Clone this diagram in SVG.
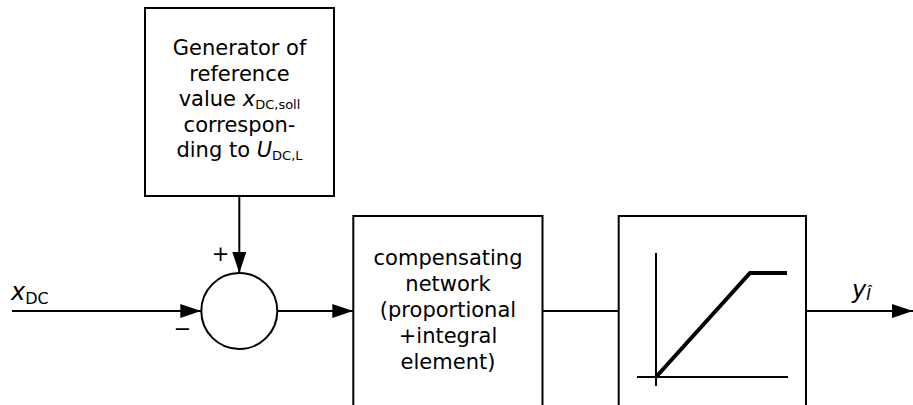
<svg xmlns="http://www.w3.org/2000/svg" width="913" height="405" viewBox="0 0 913 405">
  <style>
    .box { fill: #fff; stroke: #000; stroke-width: 2; }
    .wire { fill: none; stroke: #000; stroke-width: 2; }
    .ramp { fill: none; stroke: #000; stroke-width: 4; stroke-linejoin: miter; }
    text { font-family: "DejaVu Sans", Verdana, sans-serif; font-size: 21px; fill: #000; }
    .lbl { text-anchor: middle; }
    .it { font-style: italic; }
    .sub { font-size: 13px; }
    .sig { font-size: 24px; }
    .sigsub { font-size: 16px; }
  </style>
  <defs>
    <marker id="arrow" markerWidth="21" markerHeight="14" refX="21" refY="7" orient="auto" markerUnits="userSpaceOnUse">
      <path d="M0,0 L21,7 L0,14 Z" fill="#000"/>
    </marker>
  </defs>

  <!-- reference value generator -->
  <g id="generator">
    <rect class="box" x="145" y="8" width="189" height="188"/>
    <text class="lbl" x="239.5" y="55">Generator of</text>
    <text class="lbl" x="239.5" y="80.5">reference</text>
    <text class="lbl" x="239.5" y="106">value <tspan class="it">x</tspan><tspan class="sub" dy="3">DC,soll</tspan></text>
    <text class="lbl" x="239.5" y="131.5">correspon-</text>
    <text class="lbl" x="239.5" y="157">ding to <tspan class="it">U</tspan><tspan class="sub" dy="3">DC,L</tspan></text>
  </g>

  <!-- summing junction -->
  <g id="sum">
    <circle class="box" cx="239.3" cy="311" r="38"/>
    <text x="220.5" y="261" text-anchor="middle" font-size="23">+</text>
    <text x="182.5" y="336" text-anchor="middle" font-size="23">−</text>
  </g>

  <!-- PI controller -->
  <g id="controller">
    <rect class="box" x="353.3" y="216" width="189.2" height="190"/>
    <text class="lbl" x="448" y="265">compensating</text>
    <text class="lbl" x="448" y="291">network</text>
    <text class="lbl" x="448" y="317">(proportional</text>
    <text class="lbl" x="448" y="343">+integral</text>
    <text class="lbl" x="448" y="369">element)</text>
  </g>

  <!-- limiter -->
  <g id="limiter">
    <rect class="box" x="618.7" y="216" width="187.3" height="190"/>
    <path class="wire" d="M656,253 V386 M637,377 H788"/>
    <path class="ramp" d="M656,377 L750,273 H787"/>
  </g>

  <!-- signal lines -->
  <g id="connectors">
    <path class="wire" d="M239.3,196 V273" marker-end="url(#arrow)"/>
    <path class="wire" d="M12,311 H201.3" marker-end="url(#arrow)"/>
    <path class="wire" d="M277.3,311 H353.3" marker-end="url(#arrow)"/>
    <path class="wire" d="M542.5,311 H618.7"/>
    <path class="wire" d="M806,311 H913" marker-end="url(#arrow)"/>
  </g>

  <!-- signal labels -->
  <g id="labels">
    <text class="sig" x="11" y="300"><tspan class="it">x</tspan><tspan class="sigsub" dy="4">DC</tspan></text>
    <text class="sig" x="852" y="298"><tspan class="it">y</tspan><tspan class="sigsub it" dy="2">Î</tspan></text>
  </g>
</svg>
